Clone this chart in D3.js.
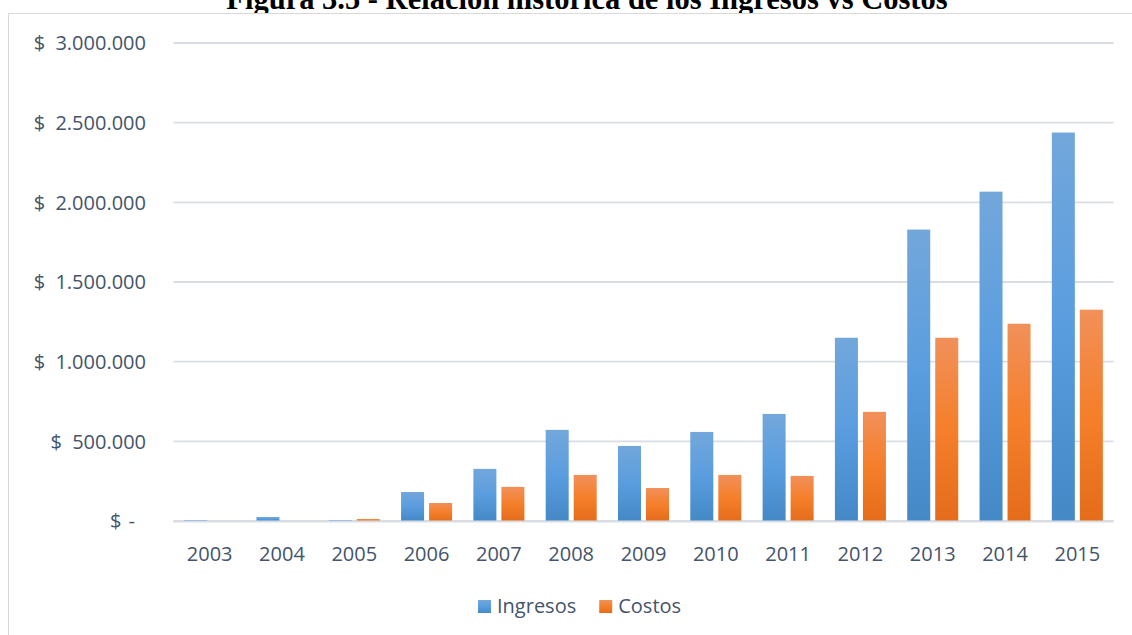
<!DOCTYPE html>
<html>
<head>
<meta charset="utf-8">
<script src="https://cdn.jsdelivr.net/npm/d3@7"></script>
<style>
  html, body { margin: 0; padding: 0; background: #ffffff; }
  svg { display: block; }
</style>
</head>
<body>
<svg id="chart" width="1132" height="635"></svg>
<script>
// Ingresos y costos anuales (pesos)
const years = ["2003","2004","2005","2006","2007","2008","2009","2010","2011","2012","2013","2014","2015"];
const ingresos = [6000, 25000, 6000, 182000, 327000, 572000, 471000, 559000, 672000, 1150000, 1829000, 2067000, 2438000];
const costos   = [0, 0, 13000, 113000, 214000, 289000, 207000, 289000, 283000, 685000, 1150000, 1238000, 1326000];
const seriesNames = ["Ingresos", "Costos"];
const yTicks = [0, 500000, 1000000, 1500000, 2000000, 2500000, 3000000];
const titleText = "Figura 3.5 - Relación histórica de los Ingresos vs Costos";

const svg = d3.select("#chart");
const textColor = "#44546a";
const gridColor = "#d9dde3";
const font = "'Open Sans', sans-serif";

const locale = d3.formatLocale({ decimal: ",", thousands: ".", grouping: [3], currency: ["$", ""] });
const fmt = locale.format(",.0f");
const tickNumber = v => v === 0 ? " -" : " " + fmt(v);

// Title (sits above the chart frame, lower half visible)
svg.append("text")
  .attr("x", 587).attr("y", 9)
  .attr("text-anchor", "middle")
  .style("font-family", "'Liberation Serif', 'Times New Roman', serif")
  .style("font-weight", "bold")
  .style("font-size", "30.5px")
  .attr("fill", "#000")
  .text(titleText);

// Chart frame
svg.append("rect")
  .attr("x", 8.5).attr("y", 13.5)
  .attr("width", 1200).attr("height", 700)
  .attr("fill", "#ffffff")
  .attr("stroke", "#d9d9d9").attr("stroke-width", 1);

// Gradients
const defs = svg.append("defs");
function grad(id, stops) {
  const g = defs.append("linearGradient").attr("id", id)
    .attr("x1", 0).attr("y1", 0).attr("x2", 0).attr("y2", 1);
  stops.forEach(([o, c]) => g.append("stop").attr("offset", o).attr("stop-color", c));
}
grad("gIngresos", [[0, "#72a7db"], [0.5, "#5a9ddf"], [1, "#4588c6"]]);
grad("gCostos",   [[0, "#f1905a"], [0.5, "#f57f2a"], [1, "#e46c1b"]]);
const fills = { Ingresos: "url(#gIngresos)", Costos: "url(#gCostos)" };

// Scales
const x0 = d3.scaleBand().domain(years).range([173.5, 1113.5]).paddingInner(0).paddingOuter(0);
const x1 = d3.scaleBand().domain(seriesNames).range([0, x0.bandwidth()]).paddingInner(5 / 28).paddingOuter(0.38);
const y = d3.scaleLinear().domain([0, 3000000]).range([521, 43]);

// Gridlines
svg.append("g").selectAll("line").data(yTicks).join("line")
  .attr("x1", 173.5).attr("x2", 1113.5)
  .attr("y1", d => y(d)).attr("y2", d => y(d))
  .attr("stroke", gridColor).attr("stroke-width", 1.8);

// Y labels (accounting style: currency sign set apart from the amount)
const yLab = svg.append("g").selectAll("text").data(yTicks).join("text")
  .attr("x", d => d === 0 ? 135 : 146)
  .attr("y", d => y(d))
  .attr("dy", "0.36em")
  .attr("text-anchor", "end")
  .style("font-family", font).style("font-size", "20px")
  .attr("fill", textColor);
yLab.append("tspan").text("$");
yLab.append("tspan").attr("dx", d => d === 0 ? 2 : 5).text(tickNumber);

// Bars
const rows = years.map((yr, i) => ({ year: yr, values: [
  { key: "Ingresos", value: ingresos[i] },
  { key: "Costos", value: costos[i] }
]}));

const groups = svg.append("g").selectAll("g").data(rows).join("g")
  .attr("transform", d => `translate(${x0(d.year)},0)`);
groups.selectAll("rect").data(d => d.values.filter(v => v.value > 0)).join("rect")
  .attr("x", d => x1(d.key))
  .attr("width", x1.bandwidth())
  .attr("y", d => y(d.value))
  .attr("height", d => y(0) - y(d.value))
  .attr("fill", d => fills[d.key]);

// Baseline
svg.append("line")
  .attr("x1", 173.5).attr("x2", 1113.5)
  .attr("y1", y(0) + 0.5).attr("y2", y(0) + 0.5)
  .attr("stroke", gridColor).attr("stroke-width", 1.8);

// X labels
svg.append("g").selectAll("text").data(years).join("text")
  .attr("x", d => x0(d) + x0.bandwidth() / 2)
  .attr("y", 561)
  .attr("text-anchor", "middle")
  .style("font-family", font).style("font-size", "20px")
  .attr("fill", textColor)
  .text(d => d);

// Legend
const legend = svg.append("g");
const items = legend.selectAll("g").data(seriesNames).join("g");
items.append("rect")
  .attr("width", 13).attr("height", 13).attr("y", 600)
  .attr("fill", d => fills[d]);
items.append("text")
  .attr("x", 19).attr("y", 613)
  .style("font-family", font).style("font-size", "20px")
  .attr("fill", textColor)
  .text(d => d);
let cx = 478;
items.each(function () {
  d3.select(this).attr("transform", `translate(${cx},0)`);
  const w = d3.select(this).select("text").node().getComputedTextLength();
  cx += 19 + w + 23;
});
</script>
</body>
</html>
